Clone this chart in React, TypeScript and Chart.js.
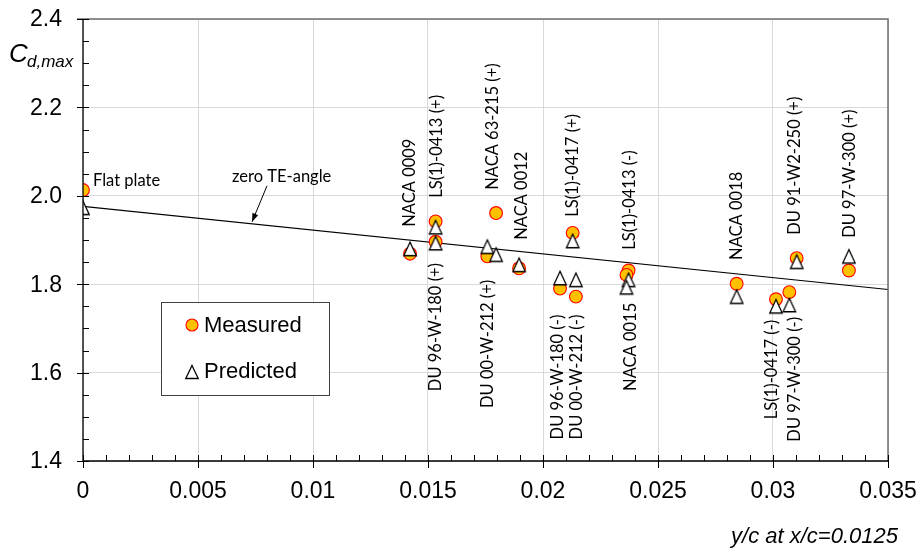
import React, { useEffect, useRef } from "react";
import { Chart, registerables } from "chart.js";

Chart.register(...registerables);

// ---- data ----
const airfoils = [
  "Flat plate",
  "NACA 0009",
  "LS(1)-0413 (+)",
  "DU 96-W-180 (+)",
  "DU 00-W-212 (+)",
  "NACA 63-215 (+)",
  "NACA 0012",
  "DU 96-W-180 (-)",
  "LS(1)-0417 (+)",
  "DU 00-W-212 (-)",
  "LS(1)-0413 (-)",
  "NACA 0015",
  "NACA 0018",
  "LS(1)-0417 (-)",
  "DU 97-W-300 (-)",
  "DU 91-W2-250 (+)",
  "DU 97-W-300 (+)",
];
const thickness = [
  0, 0.01422, 0.01533, 0.01533, 0.01758, 0.01796, 0.01896, 0.02074, 0.02129,
  0.02143, 0.02372, 0.02363, 0.02842, 0.03013, 0.03071, 0.03103, 0.0333,
];
const measured = [
  2.013, 1.869, 1.942, 1.896, 1.863, 1.961, 1.836, 1.79, 1.916, 1.772, 1.831,
  1.821, 1.801, 1.766, 1.782, 1.859, 1.831,
];
const predicted = [
  1.973, 1.88, 1.929, 1.893, 1.885, 1.867, 1.844, 1.814, 1.898, 1.81, 1.81,
  1.793, 1.772, 1.75, 1.753, 1.851, 1.863,
];
const zeroTeX = [0, 0.035];
const zeroTeY = [1.976, 1.788];
const xTicks = [0, 0.005, 0.01, 0.015, 0.02, 0.025, 0.03, 0.035];
const xTickLabels = ["0", "0.005", "0.01", "0.015", "0.02", "0.025", "0.03", "0.035"];
const yTicks = [1.4, 1.6, 1.8, 2.0, 2.2, 2.4];
const yTickLabels = ["1.4", "1.6", "1.8", "2.0", "2.2", "2.4"];

// ---- label layout (anchor in data units; "up" = text starts at anchor and runs upward,
// "down" = text ends at anchor, hanging below) ----
const labelAnchorX = [
  0.000435, 0.01422, 0.01539, 0.01535, 0.01761, 0.01783, 0.01909, 0.02065, 0.0213,
  0.02148, 0.02378, 0.02383, 0.02843, 0.02996, 0.03096, 0.03096, 0.03335,
];
const labelAnchorY = [
  2.034, 1.93, 1.9955, 1.848, 1.81, 2.0136, 1.9005, 1.731, 1.9525, 1.731, 1.878,
  1.758, 1.855, 1.7195, 1.726, 1.912, 1.905,
];
const labelDir = [
  "h", "up", "up", "down", "down", "up", "up", "down", "up", "down", "up", "down",
  "up", "down", "down", "up", "up",
];

const LABEL_FONT = "16.5px Lato";
const AXIS_FONT = "23px 'Liberation Sans', Arial, sans-serif";

function drawTri(ctx: CanvasRenderingContext2D, cx: number, cy: number, w: number, h: number) {
  ctx.beginPath();
  ctx.moveTo(cx, cy - h / 2);
  ctx.lineTo(cx + w / 2, cy + h / 2);
  ctx.lineTo(cx - w / 2, cy + h / 2);
  ctx.closePath();
  ctx.fillStyle = "#fff";
  ctx.fill();
  ctx.strokeStyle = "#000";
  ctx.lineWidth = 1.3;
  ctx.lineJoin = "miter";
  ctx.stroke();
}

function makeTriangle(): HTMLCanvasElement {
  const c = document.createElement("canvas");
  c.width = 18;
  c.height = 18;
  const g = c.getContext("2d")!;
  drawTri(g, 9, 9, 12.5, 13.5);
  return c;
}

const overlay = {
  id: "overlay",
  afterDatasetsDraw(chart: any) {
    const ctx: CanvasRenderingContext2D = chart.ctx;
    const xs = chart.scales.x;
    const ys = chart.scales.y;
    const { left, right, top, bottom } = chart.chartArea;
    ctx.save();

    // frame: top and right in grey
    ctx.strokeStyle = "#6f6f6f";
    ctx.lineWidth = 1.5;
    ctx.beginPath();
    ctx.moveTo(left - 6, top);
    ctx.lineTo(right, top);
    ctx.lineTo(right, bottom);
    ctx.stroke();

    // axes
    ctx.strokeStyle = "#000";
    ctx.lineWidth = 1.3;
    ctx.beginPath();
    ctx.moveTo(left, top);
    ctx.lineTo(left, bottom);
    ctx.moveTo(left, bottom);
    ctx.lineTo(right, bottom);
    ctx.stroke();

    // ticks
    ctx.lineWidth = 1;
    ctx.beginPath();
    for (let k = 0; k <= 20; k++) {
      const v = 1.4 + k * 0.05;
      const py = Math.round(ys.getPixelForValue(v)) + 0.5;
      const major = k % 4 === 0;
      ctx.moveTo(major ? left - 6 : left, py);
      ctx.lineTo(left + 6, py);
    }
    for (let i = 0; i <= 35; i++) {
      const v = i * 0.001;
      const px = Math.round(xs.getPixelForValue(v)) + 0.5;
      const major = i % 5 === 0;
      ctx.moveTo(px, bottom - 6);
      ctx.lineTo(px, major ? bottom + 7 : bottom);
    }
    ctx.stroke();

    // tick labels
    ctx.fillStyle = "#000";
    ctx.font = AXIS_FONT;
    ctx.textAlign = "right";
    ctx.textBaseline = "middle";
    yTicks.forEach((v, i) => {
      ctx.fillText(yTickLabels[i], left - 21, ys.getPixelForValue(v) + 1);
    });
    ctx.textAlign = "center";
    xTicks.forEach((v, i) => {
      ctx.fillText(xTickLabels[i], xs.getPixelForValue(v), bottom + 31);
    });

    // axis titles
    ctx.font = "italic 22px 'Liberation Sans', Arial, sans-serif";
    ctx.textAlign = "right";
    ctx.textBaseline = "middle";
    ctx.fillText("y/c at x/c=0.0125", 898, 537);

    ctx.textAlign = "left";
    ctx.textBaseline = "alphabetic";
    ctx.font = "italic 26px 'Liberation Sans', Arial, sans-serif";
    ctx.fillText("C", 9, 62);
    ctx.font = "italic 17px 'Liberation Sans', Arial, sans-serif";
    ctx.fillText("d,max", 27, 67);

    // point labels
    ctx.font = LABEL_FONT;
    ctx.fillStyle = "#000";
    airfoils.forEach((name, i) => {
      const px = xs.getPixelForValue(labelAnchorX[i]);
      const py = ys.getPixelForValue(labelAnchorY[i]);
      if (labelDir[i] === "h") {
        ctx.textAlign = "left";
        ctx.textBaseline = "middle";
        ctx.fillText(name, px, py);
        return;
      }
      ctx.save();
      ctx.translate(px, py);
      ctx.rotate(-Math.PI / 2);
      ctx.textBaseline = "middle";
      ctx.textAlign = labelDir[i] === "up" ? "left" : "right";
      ctx.fillText(name, 0, 0);
      ctx.restore();
    });

    // zero TE-angle annotation with arrow
    ctx.textAlign = "left";
    ctx.textBaseline = "middle";
    ctx.fillText("zero TE-angle", xs.getPixelForValue(0.00648), ys.getPixelForValue(2.043));
    const tx = xs.getPixelForValue(0.00735);
    const ty = ys.getPixelForValue(2.0 - 26 / 442);
    const bx = xs.getPixelForValue(0.008);
    const by = ys.getPixelForValue(2.0 + 10 / 442);
    ctx.strokeStyle = "#000";
    ctx.lineWidth = 1;
    ctx.beginPath();
    ctx.moveTo(bx, by);
    ctx.lineTo(tx, ty);
    ctx.stroke();
    const ang = Math.atan2(ty - by, tx - bx);
    ctx.beginPath();
    ctx.moveTo(tx, ty);
    ctx.lineTo(tx - 9 * Math.cos(ang - 0.35), ty - 9 * Math.sin(ang - 0.35));
    ctx.lineTo(tx - 9 * Math.cos(ang + 0.35), ty - 9 * Math.sin(ang + 0.35));
    ctx.closePath();
    ctx.fill();

    // legend box
    const lx = left + 78;
    const ly = top + 283;
    ctx.fillStyle = "#fff";
    ctx.fillRect(lx, ly, 168, 93);
    ctx.strokeStyle = "#404040";
    ctx.lineWidth = 1;
    ctx.strokeRect(lx + 0.5, ly + 0.5, 168, 93);
    ctx.beginPath();
    ctx.arc(lx + 31, ly + 23, 6, 0, Math.PI * 2);
    ctx.fillStyle = "#FFC000";
    ctx.fill();
    ctx.strokeStyle = "#FF0000";
    ctx.lineWidth = 1.1;
    ctx.stroke();
    drawTri(ctx, lx + 31, ly + 70, 12.5, 13);
    ctx.fillStyle = "#000";
    ctx.font = "22px 'Liberation Sans', Arial, sans-serif";
    ctx.textAlign = "left";
    ctx.textBaseline = "middle";
    ctx.fillText("Measured", lx + 43, ly + 24);
    ctx.fillText("Predicted", lx + 43, ly + 70);

    ctx.restore();
  },
};

export default function App() {
  const ref = useRef<HTMLCanvasElement | null>(null);
  useEffect(() => {
    document.body.style.margin = "0";
    const canvas = ref.current;
    if (!canvas) return;
    const tri = makeTriangle();
    const chart = new Chart(canvas, {
      type: "scatter",
      data: {
        datasets: [
          {
            label: "zero TE-angle",
            type: "line",
            data: zeroTeX.map((x, i) => ({ x, y: zeroTeY[i] })),
            borderColor: "#000",
            borderWidth: 1.2,
            pointRadius: 0,
            fill: false,
            order: 3,
          } as any,
          {
            label: "Predicted",
            data: thickness.map((x, i) => ({ x, y: predicted[i] })),
            pointStyle: tri,
            pointRadius: 7,
            backgroundColor: "#ffffff",
            borderColor: "#000000",
            borderWidth: 1,
            order: 0,
          },
          {
            label: "Measured",
            data: thickness.map((x, i) => ({ x, y: measured[i] })),
            pointStyle: "circle",
            pointRadius: 6.4,
            backgroundColor: "#FFC000",
            borderColor: "#FF0000",
            borderWidth: 1.1,
            order: 1,
          },
        ],
      },
      options: {
        animation: false,
        responsive: false,
        layout: { padding: { left: 83, right: 33, top: 19, bottom: 88 } },
        plugins: { legend: { display: false }, tooltip: { enabled: false } },
        scales: {
          x: {
            type: "linear",
            min: 0,
            max: 0.035,
            ticks: { display: false, stepSize: 0.005 },
            grid: { color: "#d9d9d9", drawTicks: false, lineWidth: 1 },
            border: { display: false },
          },
          y: {
            type: "linear",
            min: 1.4,
            max: 2.4,
            ticks: { display: false, stepSize: 0.2 },
            grid: { color: "#d9d9d9", drawTicks: false, lineWidth: 1 },
            border: { display: false },
          },
        },
      },
      plugins: [overlay],
    });
    return () => chart.destroy();
  }, []);
  return (
    <canvas
      ref={ref}
      width={921}
      height={549}
      style={{ display: "block", width: 921, height: 549 }}
    />
  );
}
